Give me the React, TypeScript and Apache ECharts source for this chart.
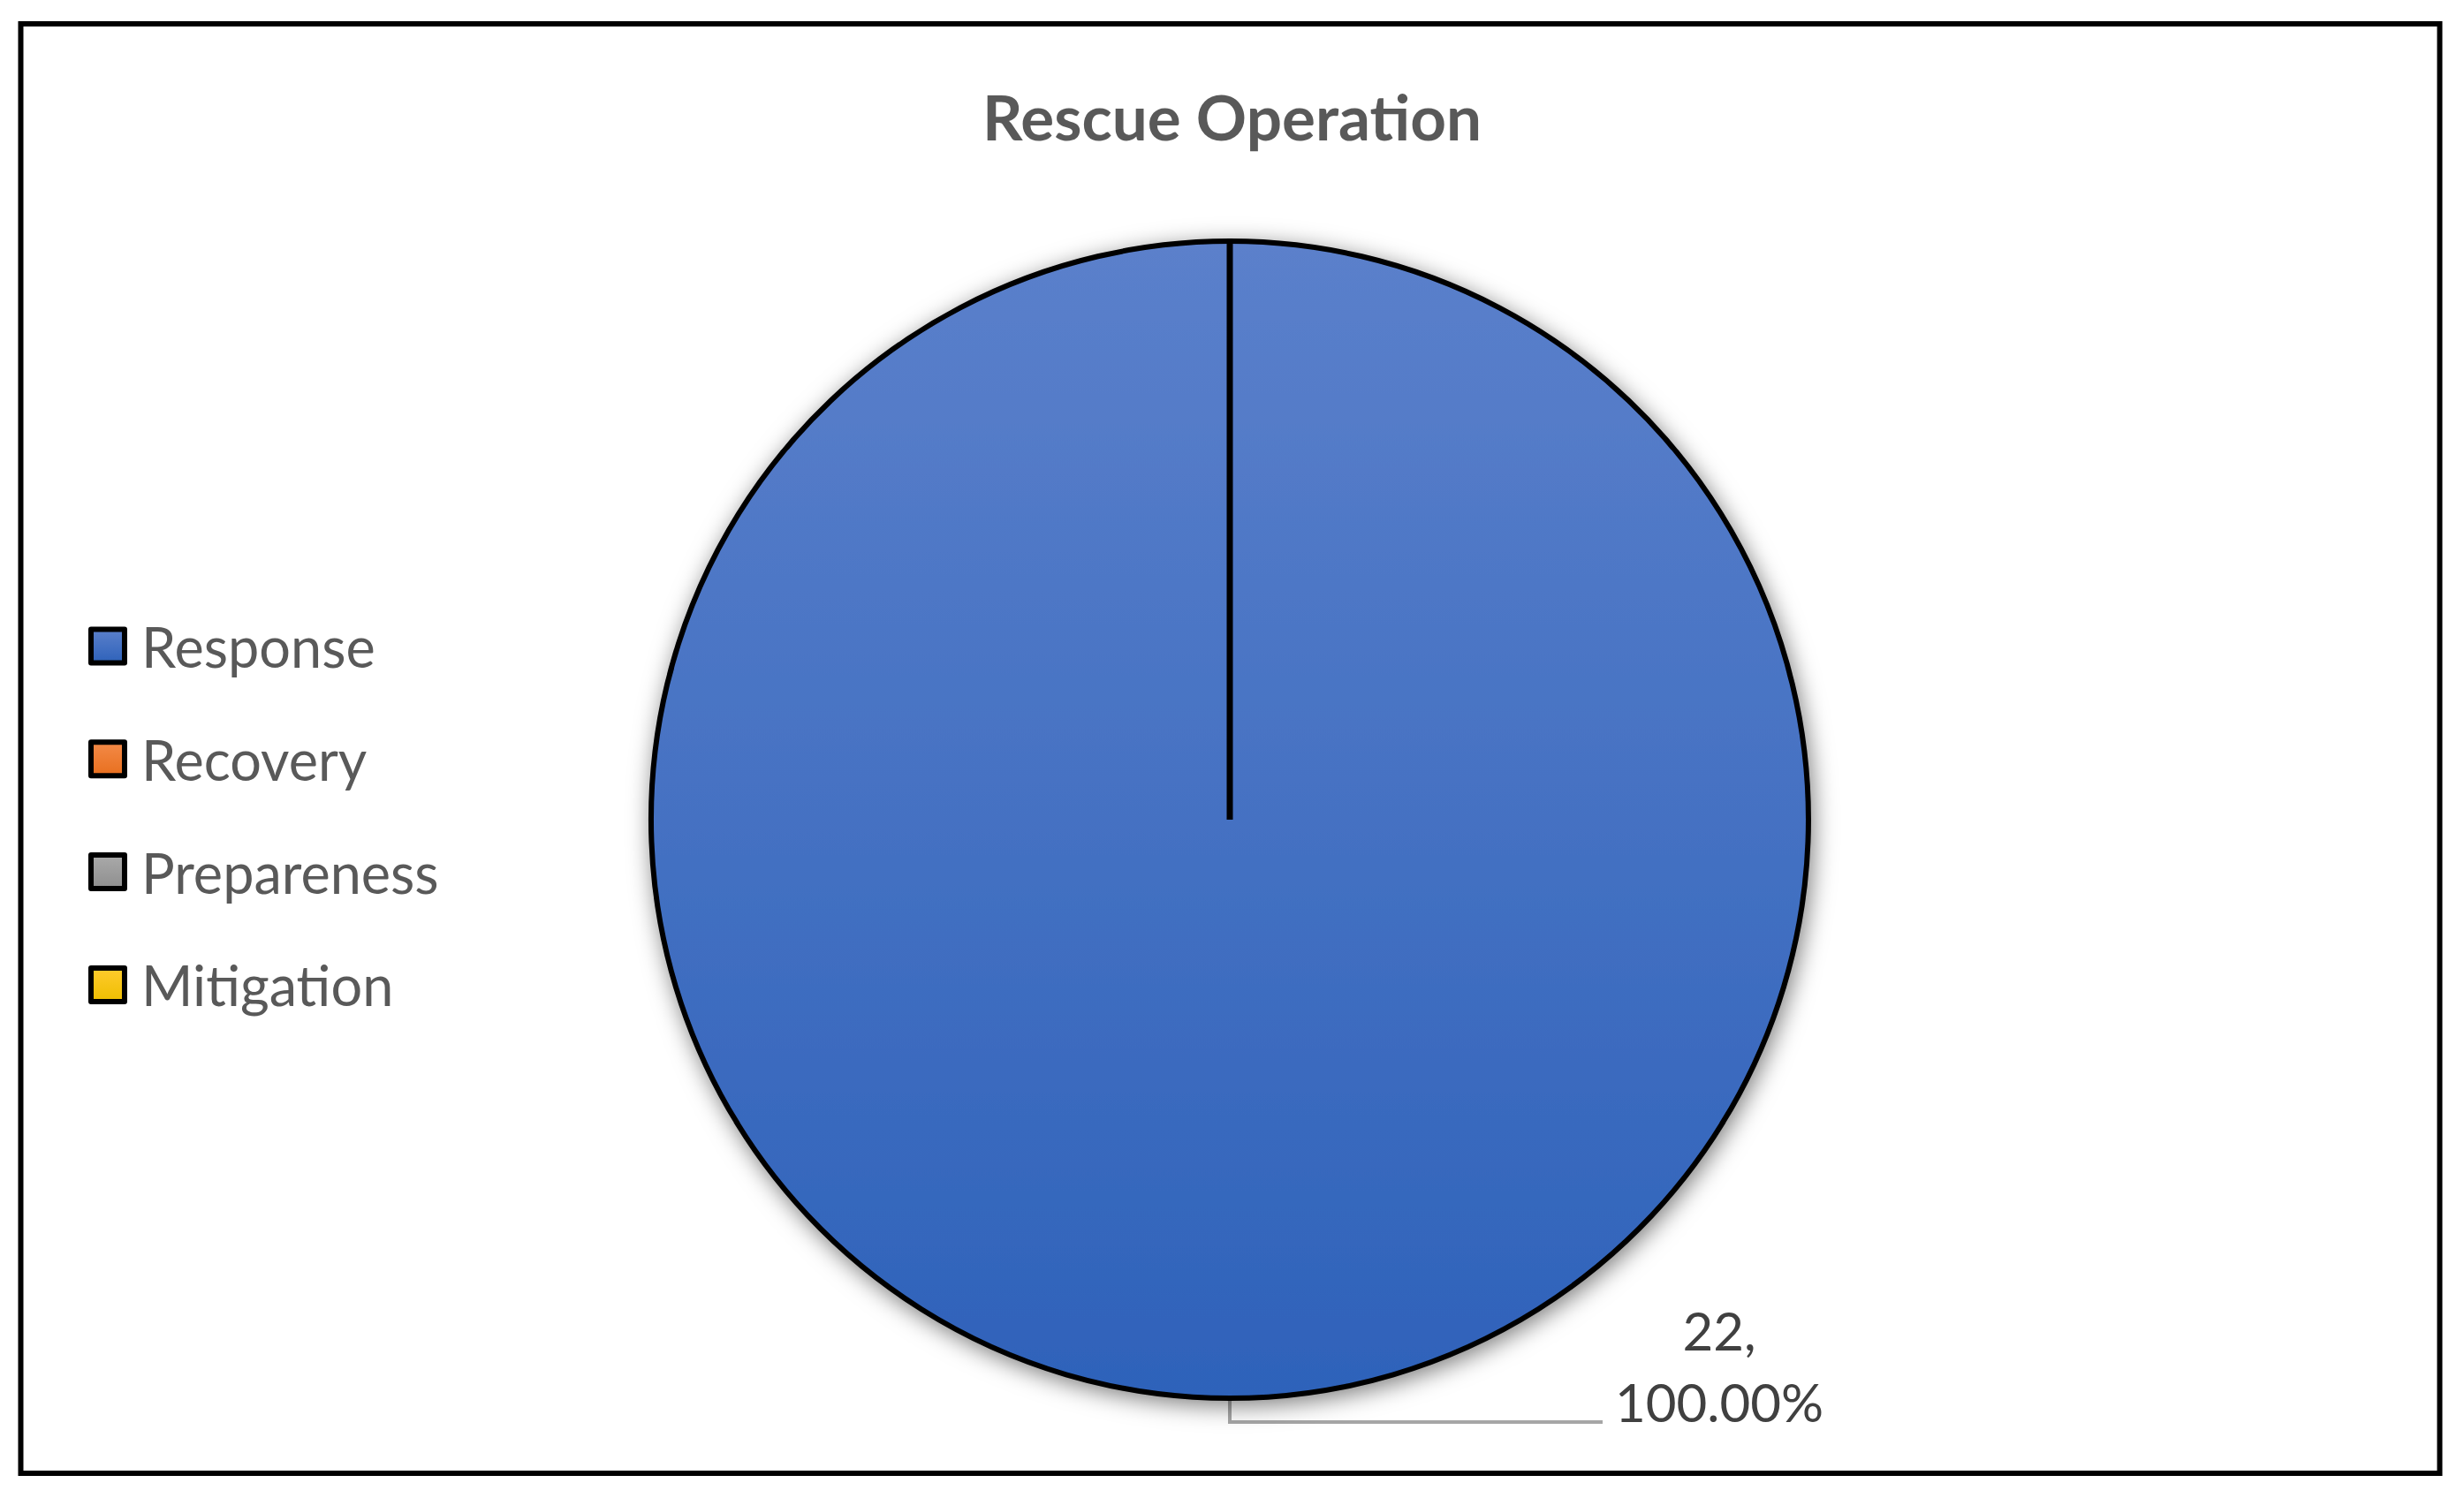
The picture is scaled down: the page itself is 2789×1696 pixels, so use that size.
import React, { useEffect, useRef } from 'react';
import * as echarts from 'echarts';

const titleText = 'Rescue Operation';
const categories = ['Response', 'Recovery', 'Prepareness', 'Mitigation'];
const values = [22, 0, 0, 0];
const topColors = ['#5B80CB', '#F38A48', '#AAAAAA', '#FFCB2E'];
const bottomColors = ['#2E62BA', '#E86F1E', '#8E8E8E', '#EEBE00'];

const CX = 1392;
const CY = 928;
const R = 655;

export default function App() {
  const ref = useRef<HTMLDivElement>(null);
  useEffect(() => {
    document.body.style.margin = '0';
    const chart = echarts.init(ref.current!, null, { renderer: 'svg' });
    const data = categories.map((name, i) => ({
      name,
      value: values[i],
      itemStyle: {
        color: new echarts.graphic.LinearGradient(0, 0, 0, 1, [
          { offset: 0, color: topColors[i] },
          { offset: 1, color: bottomColors[i] },
        ]),
      },
      label: values[i] > 0 ? {} : { show: false },
      labelLine: values[i] > 0 ? {} : { show: false },
    }));
    chart.setOption({
      animation: false,
      backgroundColor: '#ffffff',
      title: {
        text: titleText,
        left: 'center',
        top: 84,
        textStyle: {
          fontFamily: 'Lato',
          fontWeight: 'bold',
          fontSize: 71,
          color: '#595959',
          lineHeight: 84,
        },
      },
      legend: {
        orient: 'vertical',
        left: 95,
        top: 695,
        itemWidth: 38,
        itemHeight: 38,
        itemGap: 64.8,
        icon: 'rect',
        selectedMode: false,
        itemStyle: {
          borderColor: '#000',
          borderWidth: 6,
          shadowBlur: 0,
          shadowColor: 'transparent',
        },
        textStyle: {
          fontFamily: 'Lato',
          fontSize: 63,
          color: '#595959',
          padding: [0, 0, 0, 14],
        },
      },
      graphic: [
        {
          type: 'rect',
          silent: true,
          z: -1,
          shape: { x: 23.5, y: 27, width: 2738, height: 1641 },
          style: { fill: 'none', stroke: '#000', lineWidth: 6 },
        },
        {
          type: 'line',
          silent: true,
          z: 100,
          shape: { x1: CX, y1: CY, x2: CX, y2: CY - R },
          style: { stroke: '#000', lineWidth: 7 },
        },
      ],
      series: [
        {
          type: 'pie',
          center: [CX, CY],
          radius: R,
          startAngle: 90,
          clockwise: true,
          avoidLabelOverlap: false,
          silent: true,
          emphasis: { disabled: true },
          itemStyle: {
            borderColor: '#000',
            borderWidth: 6,
            shadowBlur: 26,
            shadowColor: 'rgba(0,0,0,0.5)',
            shadowOffsetX: 3,
            shadowOffsetY: 6,
          },
          label: {
            show: true,
            position: 'outside',
            distanceToLabelLine: 12,
            padding: [0, 0, 127, 0],
            formatter: (p: any) => `{a|${p.value},}\n{a|${p.percent.toFixed(2)}%}`,
            rich: {
              a: {
                width: 240,
                align: 'center',
                fontFamily: 'Lato',
                fontSize: 60,
                lineHeight: 81,
                color: '#404040',
              },
            },
          },
          labelLine: {
            show: true,
            length: 27,
            length2: 422,
            lineStyle: { color: '#A6A6A6', width: 4 },
          },
          data,
        },
      ],
    });
    return () => chart.dispose();
  }, []);
  return (
    <div
      ref={ref}
      style={{ position: 'fixed', left: 0, top: 0, width: 2789, height: 1696, background: '#fff' }}
    />
  );
}
